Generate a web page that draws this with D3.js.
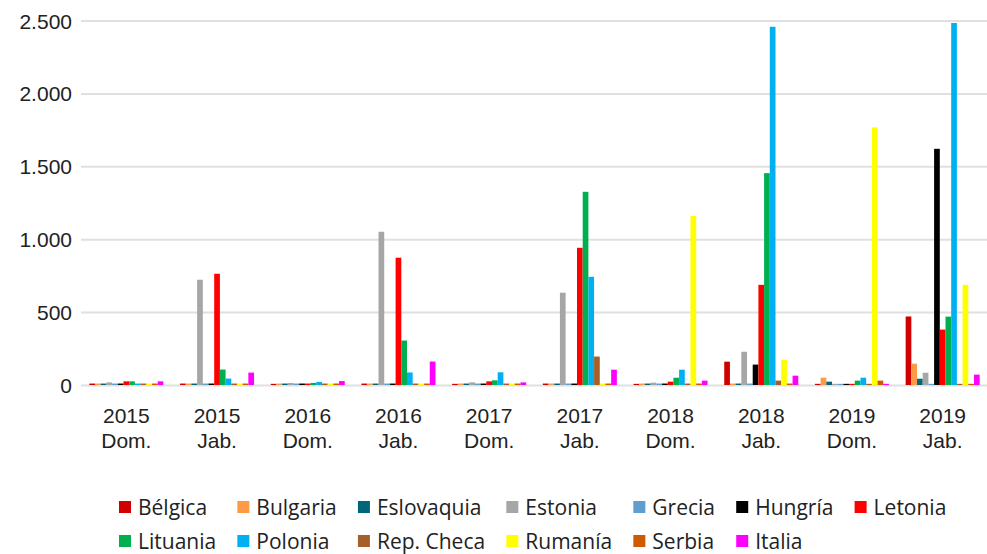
<!DOCTYPE html>
<html>
<head>
<meta charset="utf-8">
<script src="https://cdn.jsdelivr.net/npm/d3@7"></script>
<style>
  body { margin: 0; background: #fff; }
  svg { font-family: "Open Sans", sans-serif; }
</style>
</head>
<body>
<div id="chart"></div>
<script>
// categories (year + season), shown on two lines
var categories = ["2015 Dom.", "2015 Jab.", "2016 Dom.", "2016 Jab.", "2017 Dom.",
                  "2017 Jab.", "2018 Dom.", "2018 Jab.", "2019 Dom.", "2019 Jab."];
var seriesNames = ["Bélgica", "Bulgaria", "Eslovaquia", "Estonia", "Grecia", "Hungría", "Letonia",
                   "Lituania", "Polonia", "Rep. Checa", "Rumanía", "Serbia", "Italia"];
var seriesColors = ["#d10000", "#fd9a45", "#00677a", "#a6a6a6", "#5f9fd0", "#000000", "#ff0000",
                    "#00b050", "#00b0f0", "#a5602a", "#ffff00", "#d05a00", "#ff00ff"];

var belgica    = [10, 10, 8, 10, 8, 10, 8, 160, 8, 470];
var bulgaria   = [10, 10, 10, 10, 10, 10, 10, 10, 50, 146];
var eslovaquia = [10, 10, 10, 10, 10, 10, 10, 10, 23, 43];
var estonia    = [18, 722, 14, 1051, 18, 633, 16, 228, 8, 84];
var grecia     = [10, 10, 10, 10, 10, 10, 10, 10, 8, 8];
var hungria    = [10, 10, 10, 10, 10, 10, 10, 140, 8, 1620];
var letonia    = [25, 763, 10, 873, 25, 941, 23, 687, 8, 380];
var lituania   = [25, 106, 14, 305, 32, 1325, 50, 1453, 30, 469];
var polonia    = [10, 44, 21, 86, 87, 742, 105, 2457, 50, 2483];
var repCheca   = [10, 10, 10, 10, 10, 195, 10, 30, 8, 8];
var rumania    = [10, 10, 10, 10, 10, 10, 1160, 174, 1767, 687];
var serbia     = [10, 10, 10, 10, 10, 10, 10, 10, 30, 8];
var italia     = [25, 85, 27, 161, 18, 105, 30, 64, 8, 71];

var yTicks = [0, 500, 1000, 1500, 2000, 2500];

var seriesValues = [belgica, bulgaria, eslovaquia, estonia, grecia, hungria, letonia,
                    lituania, polonia, repCheca, rumania, serbia, italia];

var W = 987, H = 554;
var plot = {left: 81, right: 988, top: 20.5, bottom: 385};

var svg = d3.select("#chart").append("svg")
    .attr("width", W)
    .attr("height", H);

var x0 = d3.scaleBand()
    .domain(categories)
    .range([plot.left, plot.right])
    .paddingInner(0.184)
    .paddingOuter(0.092);

var x1 = d3.scaleBand()
    .domain(seriesNames)
    .range([0, x0.bandwidth()]);

var y = d3.scaleLinear()
    .domain([0, 2500])
    .range([plot.bottom, plot.top]);

// gridlines + y labels
var yAxis = svg.append("g")
    .attr("transform", "translate(" + plot.left + ",0)")
    .call(d3.axisLeft(y)
      .tickValues(yTicks)
      .tickSize(-(plot.right - plot.left))
      .tickPadding(9)
      .tickFormat(function(d) { return d3.format(",")(d).replace(/,/g, "."); }));
yAxis.select(".domain").remove();
yAxis.selectAll("line").attr("stroke", "#e0e0e0").attr("stroke-width", 2);
yAxis.selectAll("text")
    .attr("fill", "#222")
    .attr("dy", "0.36em")
    .style("font-size", "21px");

// bars
var groups = svg.append("g").selectAll("g")
    .data(categories)
  .enter().append("g")
    .attr("transform", function(d) { return "translate(" + x0(d) + ",0)"; });

groups.selectAll("rect")
    .data(function(c, i) {
      return seriesNames.map(function(s, j) { return {series: s, value: seriesValues[j][i], color: seriesColors[j]}; });
    })
  .enter().append("rect")
    .attr("x", function(d) { return x1(d.series); })
    .attr("width", x1.bandwidth())
    .attr("y", function(d) { return y(d.value); })
    .attr("height", function(d) { return y(0) - y(d.value); })
    .attr("fill", function(d) { return d.color; });

// x labels on two lines
var xAxis = svg.append("g")
    .attr("transform", "translate(0," + plot.bottom + ")")
    .call(d3.axisBottom(x0).tickSize(0).tickPadding(0));
xAxis.select(".domain").remove();
xAxis.selectAll("text").each(function(d) {
  var parts = d.split(" ");
  var t = d3.select(this).text(null).attr("y", 0).attr("dy", null)
      .attr("fill", "#222").style("font-size", "21px");
  t.append("tspan").attr("x", 0).attr("y", 38).text(parts[0]);
  t.append("tspan").attr("x", 0).attr("y", 63).text(parts[1]);
});

// legend: two rows of seven, columns sized by the widest text
var legend = svg.append("g").style("font-size", "21px");
var perRow = 7, sq = 12, rowY = [501, 535];
var items = legend.selectAll("g")
    .data(seriesNames)
  .enter().append("g");
items.append("rect")
    .attr("width", sq).attr("height", sq)
    .attr("fill", function(d, i) { return seriesColors[i]; });
items.append("text")
    .attr("x", 19)
    .attr("y", 13.5)
    .attr("fill", "#222")
    .text(function(d) { return d; });

var colW = [];
items.select("text").each(function(d, i) {
  var c = i % perRow;
  colW[c] = Math.max(colW[c] || 0, this.getComputedTextLength());
});
var colX = [119];
for (var c = 1; c < perRow; c++) colX[c] = colX[c - 1] + 19 + colW[c - 1] + 21.2;
items.attr("transform", function(d, i) {
  return "translate(" + colX[i % perRow] + "," + rowY[Math.floor(i / perRow)] + ")";
});
</script>
</body>
</html>
